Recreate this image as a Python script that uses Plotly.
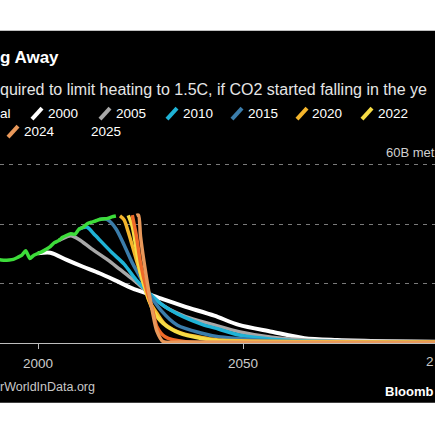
import plotly.graph_objects as go

# ---------------- data ----------------
hist_years = list(range(1990, 2020))
hist_vals = [28.2, 28.0, 27.9, 28.0, 28.2, 28.8, 29.5, 31.1, 28.5, 29.6,
             30.2, 30.8, 31.6, 32.5, 33.8, 34.5, 35.6, 36.3, 36.8, 36.6,
             38.4, 39.0, 40.2, 40.7, 41.1, 41.6, 41.8, 42.0, 42.5, 42.8]

y2000_years = [2000, 2003, 2007, 2011, 2015, 2019, 2023, 2027, 2031, 2036, 2043, 2049, 2057, 2065, 2073, 2085, 2100]
y2000_vals = [30.2, 30.4, 28.0, 25.7, 23.5, 21.0, 18.4, 16.5, 14.5, 12.2, 9.2, 6.1, 3.8, 1.6, 1.0, 0.6, 0.4]

y2005_years = [2005, 2007, 2008, 2010, 2013, 2017, 2020, 2023, 2027, 2031, 2036, 2043, 2049, 2057, 2065, 2077, 2100]
y2005_vals = [34.5, 35.8, 36.1, 34.9, 31.8, 28.0, 24.8, 21.6, 16.8, 12.2, 8.9, 6.1, 3.8, 1.9, 1.0, 0.6, 0.4]

y2010_years = [2010, 2011, 2012, 2014, 2018, 2021, 2024, 2027, 2030, 2034, 2040, 2044, 2049, 2057, 2065, 2100]
y2010_vals = [38.4, 38.9, 39.0, 36.2, 30.5, 26.6, 21.2, 17.0, 13.2, 9.8, 6.3, 4.7, 2.7, 1.3, 0.7, 0.3]

y2015_years = [2015, 2016, 2017, 2019, 2021, 2023, 2025, 2027, 2030, 2034, 2040, 2044, 2049, 2057, 2100]
y2015_vals = [41.6, 41.9, 41.5, 38.5, 33.0, 27.0, 22.0, 16.8, 11.0, 6.0, 3.3, 2.1, 1.5, 0.7, 0.3]

y2020_years = [2020, 2021, 2022, 2024, 2026, 2027, 2029, 2031, 2035, 2041, 2044, 2100]
y2020_vals = [42.8, 41.5, 37.5, 28.0, 19.0, 14.5, 10.0, 6.3, 3.3, 1.6, 1.0, 0.3]

y2022_years = [2022, 2023, 2024, 2025, 2026.5, 2028, 2030.5, 2034.5, 2039.5, 2044, 2100]
y2022_vals = [43.0, 39.2, 31.3, 23.5, 16.8, 11.1, 6.6, 3.3, 1.6, 0.8, 0.3]

y2023_years = [2023, 2024, 2025, 2026.5, 2028, 2029, 2031, 2036, 2100]
y2023_vals = [43.1, 36.0, 27.0, 17.9, 11.0, 5.5, 2.1, 0.4, 0.2]

y2024_years = [2024, 2024.5, 2025, 2026, 2027, 2028, 2029, 2030.5, 2035, 2100]
y2024_vals = [43.0, 43.1, 36.0, 26.0, 17.5, 10.0, 4.0, 0.5, 0.3, 0.2]

x_tick_vals = [2000, 2050]
x_tick_text = ["2000", "2050"]
y_grid_vals = [20, 40, 60]

# ---------------- styling ----------------
W, H = 435, 435
T, B = 158.5, 92
PH = H - T - B
FONT = "Liberation Sans"


def px(x):
    return x / W


def py(y):
    return (H - B - y) / PH


colors = {
    "2000": "#ffffff",
    "2005": "#a8a8a8",
    "2010": "#1fb3d6",
    "2015": "#3b7dab",
    "2020": "#f4b52c",
    "2022": "#f6dc45",
    "2023": "#f06a28",
    "2024": "#e8985a",
}

series = [
    ("2000", y2000_years, y2000_vals, 4),
    ("2005", y2005_years, y2005_vals, 3.5),
    ("2010", y2010_years, y2010_vals, 3.5),
    ("2015", y2015_years, y2015_vals, 3.5),
    ("2020", y2020_years, y2020_vals, 3.5),
    ("2022", y2022_years, y2022_vals, 3.5),
    ("2023", y2023_years, y2023_vals, 3.5),
    ("2024", y2024_years, y2024_vals, 3.5),
]

fig = go.Figure()
for name, xs, ys, w in series:
    fig.add_trace(go.Scatter(x=xs, y=ys, mode="lines", name=name,
                             line=dict(color=colors[name], width=w, shape="spline", smoothing=0.8),
                             hoverinfo="skip"))
fig.add_trace(go.Scatter(x=hist_years, y=hist_vals, mode="lines", name="Historical",
                         line=dict(color="#3ddc3a", width=3.5, shape="spline", smoothing=0.5),
                         hoverinfo="skip"))

annotations = []
shapes = []

# black panel
shapes.append(dict(type="rect", xref="paper", yref="paper", x0=0, x1=1,
                   y0=py(403), y1=py(30), fillcolor="#000000", line=dict(width=0), layer="below"))


def txt(x, y, s, size, color="#ffffff", bold=False, anchor="left"):
    annotations.append(dict(x=px(x), y=py(y), xref="paper", yref="paper", text=("<b>%s</b>" % s) if bold else s,
                            showarrow=False, xanchor=anchor, yanchor="middle",
                            font=dict(family=FONT, size=size, color=color), borderpad=0))


txt(-1, 57, "g Away", 17, bold=True)
txt(-1, 89, "quired to limit heating to 1.5C, if CO2 started falling in the ye", 16, color="#e6e6e6")

# legend (manual)
legend_row1 = [("al", None, 0), ("2000", 31, 48), ("2005", 99, 116), ("2010", 166, 183),
               ("2015", 231, 248), ("2020", 296, 312), ("2022", 361, 378)]
for label, sx, tx in legend_row1:
    if sx is not None:
        shapes.append(dict(type="line", xref="paper", yref="paper", x0=px(sx + 1), y0=py(118.5),
                           x1=px(sx + 11), y1=py(107.5), line=dict(color=colors[label], width=4)))
    txt(tx - 1, 113, label, 13.5, color="#ffffff")
shapes.append(dict(type="line", xref="paper", yref="paper", x0=px(8), y0=py(136.5),
                   x1=px(18), y1=py(125.5), line=dict(color=colors["2024"], width=4)))
txt(23, 131, "2024", 13.5)
txt(90, 131, "2025", 13.5)

# axis-side labels
txt(385, 152, "60B met", 13, color="#d0d0d0")
txt(435, 362, "2", 13.5, color="#c8c8c8", anchor="right")

# footer
txt(-1, 387, "rWorldInData.org", 12.5, color="#c8c8c8")
txt(434, 392, "Bloomb", 13, bold=True, anchor="right")

fig.update_layout(
    width=W, height=H,
    margin=dict(l=0, r=0, t=T, b=B, pad=0),
    paper_bgcolor="#ffffff",
    plot_bgcolor="#000000",
    showlegend=False,
    annotations=annotations,
    shapes=shapes,
    font=dict(family=FONT, color="#cccccc"),
    xaxis=dict(range=[1990.73, 2096.83], tickvals=x_tick_vals, ticktext=x_tick_text,
               showgrid=False, zeroline=False, showline=True, linecolor="#bdbdbd", linewidth=1.2,
               ticks="outside", ticklen=5, tickwidth=1, tickcolor="#bdbdbd",
               tickfont=dict(family=FONT, size=13.5, color="#cccccc"), ticklabelstandoff=3,
               fixedrange=True),
    yaxis=dict(range=[0, 62], tickvals=y_grid_vals, showticklabels=False, showgrid=True,
               gridcolor="#7a7a7a", gridwidth=1, griddash="4px,5px", zeroline=False,
               showline=False, ticks="", fixedrange=True),
)

fig.write_html("out.html", config={"displayModeBar": False, "staticPlot": True},
               post_script="document.body.style.margin='0';document.body.style.overflow='hidden';")
